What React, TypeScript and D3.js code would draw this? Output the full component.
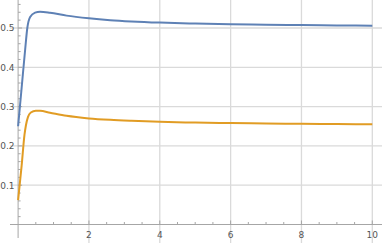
import React from "react";
import * as d3 from "d3";

const xs = [0, 0.1, 0.2, 0.26, 0.34, 0.48, 0.62, 0.9, 1.37, 2, 2.6, 3.2, 4, 5, 6, 7, 8, 9, 10];
const blue = [0.25, 0.348, 0.446, 0.5, 0.528, 0.539, 0.5415, 0.539, 0.5315, 0.5247, 0.52, 0.5168, 0.5138, 0.5114, 0.5098, 0.5085, 0.5074, 0.5066, 0.506];
const xsO = [0, 0.1, 0.18, 0.22, 0.28, 0.36, 0.5, 0.62, 0.9, 1.37, 2, 2.6, 3.2, 4, 5, 6, 7, 8, 9, 10];
const orange = [0.062, 0.15, 0.228, 0.252, 0.274, 0.285, 0.2895, 0.2893, 0.2845, 0.2765, 0.27, 0.2663, 0.2638, 0.2613, 0.2594, 0.258, 0.257, 0.2562, 0.2555, 0.255];
const xTicks = [2, 4, 6, 8, 10];
const yTicks = [0.1, 0.2, 0.3, 0.4, 0.5];

const W = 382, H = 243;

export default function App() {
  const x = d3.scaleLinear().domain([0, 10]).range([18.1, 372.3]);
  const y = d3.scaleLinear().domain([0, 0.5]).range([224.5, 28]);
  const x0 = x(0), y0 = y(0);
  const line = d3.line<[number, number]>().x(d => x(d[0])).y(d => y(d[1])).curve(d3.curveMonotoneX);
  const bPts = xs.map((v, i) => [v, blue[i]] as [number, number]);
  const oPts = xsO.map((v, i) => [v, orange[i]] as [number, number]);
  const xMinor = d3.range(0.5, 10.3, 0.5);
  const yMinor = d3.range(0.02, 0.57, 0.02);
  const grid = "#dadada";
  const axis = "#a6a6a6";
  return (
    <svg width={W} height={H} style={{ position: "absolute", left: 0, top: 0 }}>
      {xTicks.map(t => (
        <line key={"gx" + t} x1={x(t)} x2={x(t)} y1={0} y2={H} stroke={grid} strokeWidth={1.3} />
      ))}
      {yTicks.map(t => (
        <line key={"gy" + t} x1={10} x2={W} y1={y(t)} y2={y(t)} stroke={grid} strokeWidth={1.3} />
      ))}
      <line x1={10} x2={W} y1={y0} y2={y0} stroke={axis} strokeWidth={1} />
      <line x1={x0} x2={x0} y1={0} y2={238} stroke={axis} strokeWidth={1} />
      {xMinor.map(t => {
        const major = Math.abs(t - Math.round(t / 2) * 2) < 1e-6;
        return <line key={"tx" + t} x1={x(t)} x2={x(t)} y1={y0} y2={y0 - (major ? 4 : 2.5)} stroke={axis} strokeWidth={1} />;
      })}
      {yMinor.map(t => {
        const major = Math.abs(t * 10 - Math.round(t * 10)) < 1e-6;
        return <line key={"ty" + t} x1={x0} x2={x0 + (major ? 4 : 2.5)} y1={y(t)} y2={y(t)} stroke={axis} strokeWidth={1} />;
      })}
      {xTicks.map(t => (
        <text key={"lx" + t} x={x(t)} y={237.5} textAnchor="middle" fontFamily="DejaVu Sans, sans-serif" fontSize={9} fill="#555">{t}</text>
      ))}
      {yTicks.map(t => (
        <text key={"ly" + t} x={14.5} y={y(t) + 3.3} textAnchor="end" fontFamily="DejaVu Sans, sans-serif" fontSize={9} fill="#555">{t.toFixed(1)}</text>
      ))}
      <path d={line(bPts) || ""} fill="none" stroke="#5E81B5" strokeWidth={2} />
      <path d={line(oPts) || ""} fill="none" stroke="#E19C24" strokeWidth={2} />
    </svg>
  );
}
